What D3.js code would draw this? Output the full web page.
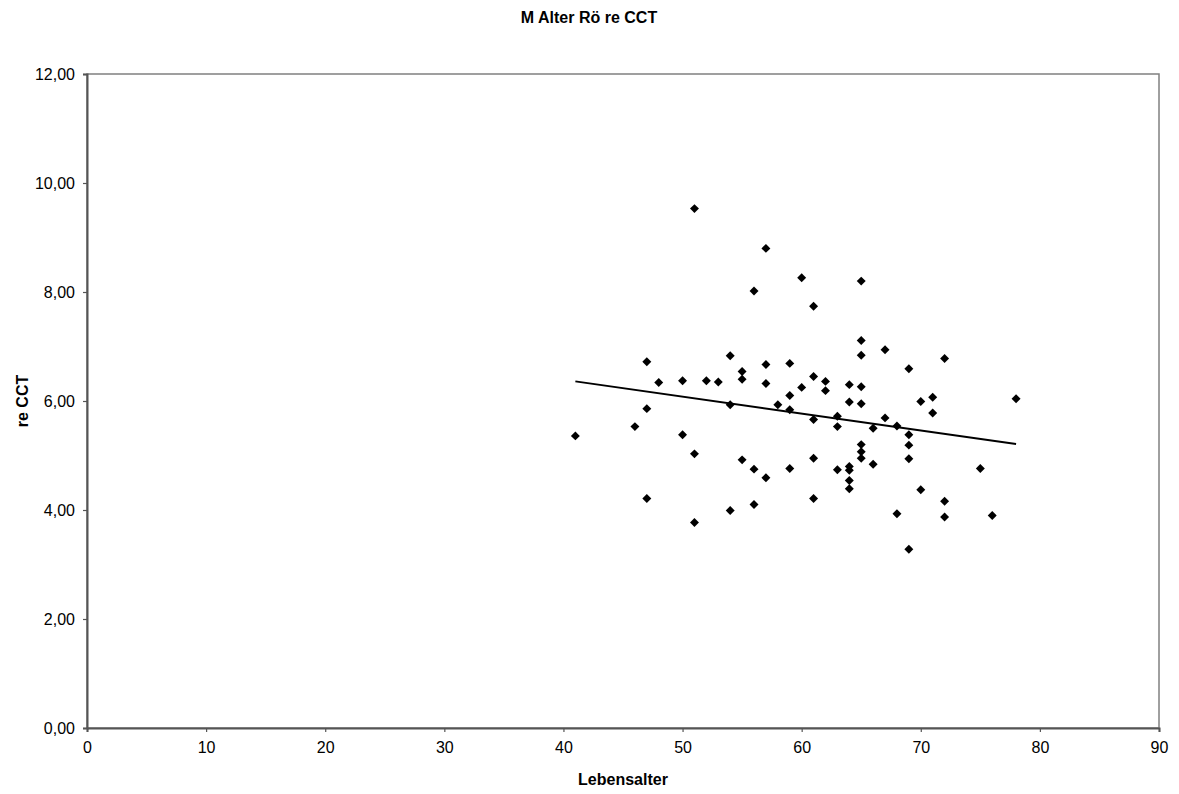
<!DOCTYPE html>
<html><head><meta charset="utf-8">
<script src="https://cdn.jsdelivr.net/npm/d3@7"></script>
<style>body{margin:0;background:#fff}text{font-family:"Liberation Sans",Arial,sans-serif}</style>
</head><body>
<svg id="c" width="1179" height="794"></svg>
<script>
const title = "M Alter Rö re CCT";
const xTitle = "Lebensalter";
const yTitle = "re CCT";
const ages = [41,46,47,47,47,48,50,50,51,51,51,52,53,54,54,54,55,55,55,56,56,56,57,57,57,57,58,59,59,59,59,60,60,61,61,61,61,61,62,62,63,63,63,64,64,64,64,64,64,65,65,65,65,65,65,65,65,66,66,67,67,68,68,69,69,69,69,69,70,70,71,71,72,72,72,75,76,78];
const cct = [5.36,5.53,6.72,5.86,4.21,6.34,6.37,5.38,9.53,5.03,3.77,6.37,6.35,6.83,5.93,3.99,6.54,6.40,4.92,8.02,4.75,4.10,8.80,6.67,6.32,4.59,5.93,6.69,6.10,5.84,4.76,8.26,6.25,7.74,6.45,5.66,4.95,4.21,6.36,6.19,5.72,5.53,4.74,6.30,5.98,4.80,4.73,4.54,4.39,8.20,7.11,6.84,6.26,5.95,5.20,5.07,4.95,5.50,4.84,6.94,5.69,5.54,3.93,6.59,5.38,5.19,4.94,3.28,5.99,4.37,6.07,5.78,6.78,4.16,3.87,4.76,3.90,6.04];
const trendX = [41, 78];
const trendY = [6.36, 5.21];
const xTicks = [0,10,20,30,40,50,60,70,80,90];
const yTicks = [0,2,4,6,8,10,12];

const svg = d3.select("#c");
const L = 87, R = 1159, T = 74, B = 728;
const x = d3.scaleLinear().domain([0,90]).range([L,R]);
const y = d3.scaleLinear().domain([0,12]).range([B,T]);
const fmt = v => d3.format(".2f")(v).replace(".", ",");

// frame
svg.append("rect").attr("x",L).attr("y",T).attr("width",R-L).attr("height",B-T)
  .attr("fill","none").attr("stroke","#808080").attr("stroke-width",1.5);

const xa = svg.append("g").attr("transform",`translate(0,${B})`)
  .call(d3.axisBottom(x).tickValues(xTicks).tickSize(4).tickPadding(10).tickFormat(d3.format("d")));
const ya = svg.append("g").attr("transform",`translate(${L},0)`)
  .call(d3.axisLeft(y).tickValues(yTicks).tickSize(4).tickPadding(8).tickFormat(fmt));
[xa,ya].forEach(a=>{
  a.select(".domain").attr("stroke","#555").attr("stroke-width",2);
  a.selectAll(".tick line").attr("stroke","#555").attr("stroke-width",1.2);
  a.selectAll("text").attr("font-size",16).attr("fill","#000").attr("font-family","Liberation Sans, Arial, sans-serif");
});

// trend line
svg.append("path").datum(trendX.map((d,i)=>[d,trendY[i]]))
  .attr("d", d3.line().x(d=>x(d[0])).y(d=>y(d[1])))
  .attr("stroke","#000").attr("stroke-width",2).attr("fill","none");

// points
const sym = d3.symbol().type(d3.symbolSquare).size(40);
svg.append("g").selectAll("path").data(ages.map((a,i)=>[a,cct[i]])).join("path")
  .attr("d", sym).attr("fill","#000")
  .attr("transform", d=>`translate(${x(d[0])},${y(d[1])}) rotate(45)`);

svg.append("text").attr("x",589).attr("y",23).attr("text-anchor","middle")
  .attr("font-size",16).attr("font-weight","bold").text(title);
svg.append("text").attr("x",(L+R)/2).attr("y",785).attr("text-anchor","middle")
  .attr("font-size",16).attr("font-weight","bold").text(xTitle);
svg.append("text").attr("transform",`translate(28,${(T+B)/2}) rotate(-90)`).attr("text-anchor","middle")
  .attr("font-size",16).attr("font-weight","bold").text(yTitle);
</script>
</body></html>
